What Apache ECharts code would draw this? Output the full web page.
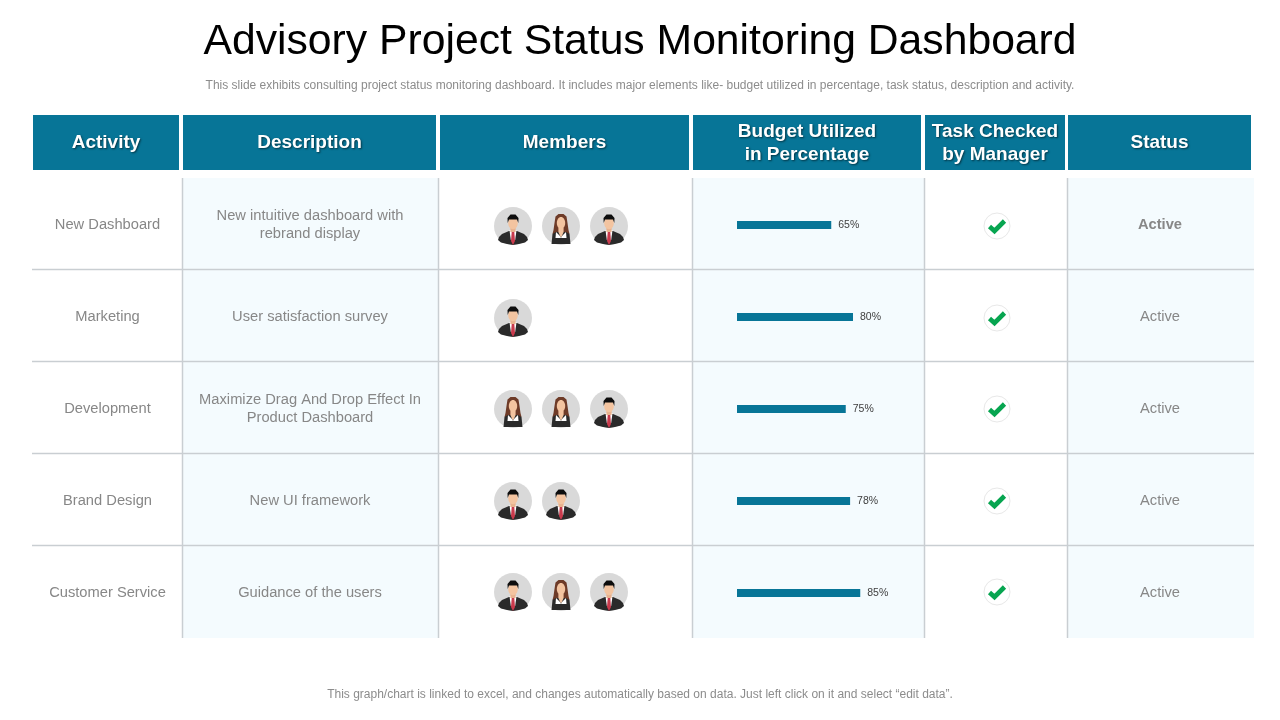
<!DOCTYPE html>
<html>
<head>
<meta charset="utf-8">
<title>Advisory Project Status Monitoring Dashboard</title>
<script src="https://cdn.jsdelivr.net/npm/echarts@6/dist/echarts.min.js"></script>
<style>
  html, body { margin: 0; padding: 0; background: #fff; }
  #chart { width: 1280px; height: 720px; }
</style>
</head>
<body>
<div id="chart"></div>
<script>
// table content
var titleText = 'Advisory Project Status Monitoring Dashboard';
var subtitleText = 'This slide exhibits consulting project status monitoring dashboard. It includes major elements like- budget utilized in percentage, task status, description and activity.';
var footerText = 'This graph/chart is linked to excel, and changes automatically based on data. Just left click on it and select \u201cedit data\u201d.';
var headers = ['Activity', 'Description', 'Members', 'Budget Utilized\nin Percentage', 'Task Checked\nby Manager', 'Status'];
var activities = ['New Dashboard', 'Marketing', 'Development', 'Brand Design', 'Customer Service'];
var descriptions = [
  'New intuitive dashboard with\nrebrand display',
  'User satisfaction survey',
  'Maximize Drag And Drop Effect In\nProduct Dashboard',
  'New UI framework',
  'Guidance of the users'
];
// m = man, f = woman
var members = [['m', 'f', 'm'], ['m'], ['f', 'f', 'm'], ['m', 'm'], ['m', 'f', 'm']];
var budgetUsed = [65, 80, 75, 78, 85];
var statuses = ['Active', 'Active', 'Active', 'Active', 'Active'];

// layout
var FONT = '"Liberation Sans", Arial, sans-serif';
var headCells = [[33, 146], [183, 253], [440, 249], [693, 228], [925, 140], [1068, 183]];
var colLines = [182.5, 438.5, 692.5, 924.5, 1067.5];
var rowLines = [269.5, 361.5, 453.5, 545.5];
var paleCols = [[183, 255], [693, 231], [1068, 186]];
var rowMid = [225, 317, 409, 501, 593];
var iconMid = [226, 318, 409, 501, 592];
var TEAL = '#077597';
var SKIN = '#f3c4a0';

function man(x, y) {
  return {
    type: 'group', x: x, y: y,
    children: [
      { type: 'circle', shape: { cx: 0, cy: 0, r: 19 }, style: { fill: '#d9d9d9' } },
      { type: 'polygon', shape: { points: [[-4, 5], [4, 5], [11, 8], [14, 11], [15, 14], [12, 16.5], [6, 18], [0, 19], [-6, 18], [-12, 16.5], [-15, 14], [-14, 11], [-11, 8]] }, style: { fill: '#2a2a2a' } },
      { type: 'polygon', shape: { points: [[-3.5, 4], [3.5, 4], [2.2, 14], [-2.2, 14]] }, style: { fill: '#ffffff' } },
      { type: 'polygon', shape: { points: [[-1.3, 6], [1.3, 6], [2, 15], [0, 19], [-2, 15]] }, style: { fill: '#c93a4c' } },
      { type: 'rect', shape: { x: -2.6, y: 1, width: 5.2, height: 5 }, style: { fill: '#e8b28e' } },
      { type: 'ellipse', shape: { cx: 0, cy: -3, rx: 4.8, ry: 6.2 }, style: { fill: SKIN } },
      { type: 'polygon', shape: { points: [[-5.3, -3], [-5.5, -8], [-2.5, -11.5], [2.5, -11.5], [5.5, -8], [5.3, -3], [4, -6.5], [-4, -6.5]] }, style: { fill: '#0d0d0d' } }
    ]
  };
}

function woman(x, y) {
  return {
    type: 'group', x: x, y: y,
    children: [
      { type: 'circle', shape: { cx: 0, cy: 0, r: 19 }, style: { fill: '#d9d9d9' } },
      { type: 'polygon', shape: { points: [[-2.5, -12], [2.5, -12], [5.5, -9.5], [6.5, -3], [7.5, 4], [8.5, 8], [-8.5, 8], [-7.5, 4], [-6.5, -3], [-5.5, -9.5]] }, style: { fill: '#6e3b28' } },
      { type: 'polygon', shape: { points: [[-5, 6], [5, 6], [8.5, 8], [9.5, 18], [-9.5, 18], [-8.5, 8]] }, style: { fill: '#2a2a2a' } },
      { type: 'polygon', shape: { points: [[-2.6, 2], [2.6, 2], [2.6, 6], [0, 12], [-2.6, 6]] }, style: { fill: SKIN } },
      { type: 'polygon', shape: { points: [[0, 12], [-1, 10], [-5, 6], [-5.5, 12]] }, style: { fill: '#ffffff' } },
      { type: 'polygon', shape: { points: [[0, 12], [1, 10], [5, 6], [5.5, 12]] }, style: { fill: '#ffffff' } },
      { type: 'ellipse', shape: { cx: 0, cy: -3, rx: 4.2, ry: 6 }, style: { fill: SKIN } }
    ]
  };
}

function checkMark(x, y) {
  return {
    type: 'group', x: x, y: y,
    children: [
      { type: 'circle', shape: { cx: 0, cy: 0, r: 13 }, style: { fill: '#fff', stroke: '#e8e8e8', lineWidth: 1 } },
      { type: 'polyline', shape: { points: [[-7.5, 0.5], [-2.5, 5], [7.5, -5]] }, style: { fill: 'none', stroke: '#07a550', lineWidth: 4.6, lineJoin: 'miter' } }
    ]
  };
}

function cellText(str, x, y, extra) {
  return {
    type: 'text', x: x, y: y, z: 3,
    style: Object.assign({
      text: str, font: '14.7px ' + FONT, fill: '#878787',
      textAlign: 'center', textVerticalAlign: 'middle', lineHeight: 18
    }, extra || {})
  };
}

var els = [];

// title block
els.push(cellText(titleText, 640, 42, { font: '42.7px ' + FONT, fill: '#000' }));
els.push(cellText(subtitleText, 640, 86, { font: '12px ' + FONT, fill: '#8c8c8c' }));
els.push(cellText(footerText, 640, 695, { font: '12px ' + FONT, fill: '#8c8c8c' }));

// pale column backgrounds
paleCols.forEach(function (c) {
  els.push({ type: 'rect', shape: { x: c[0], y: 178, width: c[1], height: 460 }, style: { fill: '#f4fbfe' } });
});

// header
headCells.forEach(function (c, i) {
  els.push({ type: 'rect', shape: { x: c[0], y: 115, width: c[1], height: 55 }, style: { fill: TEAL } });
  els.push(cellText(headers[i], c[0] + c[1] / 2, 143, {
    font: 'bold 19px ' + FONT, fill: '#fff', lineHeight: 23,
    textShadowColor: 'rgba(0,0,0,0.55)', textShadowBlur: 2, textShadowOffsetX: 1, textShadowOffsetY: 1
  }));
});

// grid lines
colLines.forEach(function (x) {
  els.push({ type: 'line', shape: { x1: x, y1: 178, x2: x, y2: 638 }, style: { stroke: '#c9ced2', lineWidth: 1.5 } });
});
rowLines.forEach(function (y) {
  els.push({ type: 'line', shape: { x1: 32, y1: y, x2: 1254, y2: y }, style: { stroke: '#c9ced2', lineWidth: 1.5 } });
});

// rows
activities.forEach(function (name, i) {
  els.push(cellText(name, 107.5, rowMid[i]));
  els.push(cellText(descriptions[i], 310, rowMid[i]));
  members[i].forEach(function (kind, j) {
    var x = 513 + j * 48;
    els.push(kind === 'm' ? man(x, iconMid[i]) : woman(x, iconMid[i]));
  });
  els.push(checkMark(997, iconMid[i]));
  els.push(cellText(statuses[i], 1160, rowMid[i], i === 0 ? { font: 'bold 14.7px ' + FONT } : {}));
});

var chart = echarts.init(document.getElementById('chart'));

var option = {
  animation: false,
  backgroundColor: '#fff',
  graphic: { elements: els },
  grid: { left: 737, top: 179, width: 145, height: 460 },
  xAxis: { type: 'value', min: 0, max: 100, show: false },
  yAxis: { type: 'category', inverse: true, data: activities, show: false },
  series: [{
    name: 'Budget Utilized in Percentage',
    type: 'bar',
    data: budgetUsed,
    barWidth: 8,
    itemStyle: { color: TEAL },
    label: {
      show: true,
      position: 'right',
      distance: 7,
      formatter: '{c}%',
      fontSize: 10.5,
      fontFamily: FONT,
      color: '#404040'
    }
  }]
};

chart.setOption(option);
</script>
</body>
</html>
